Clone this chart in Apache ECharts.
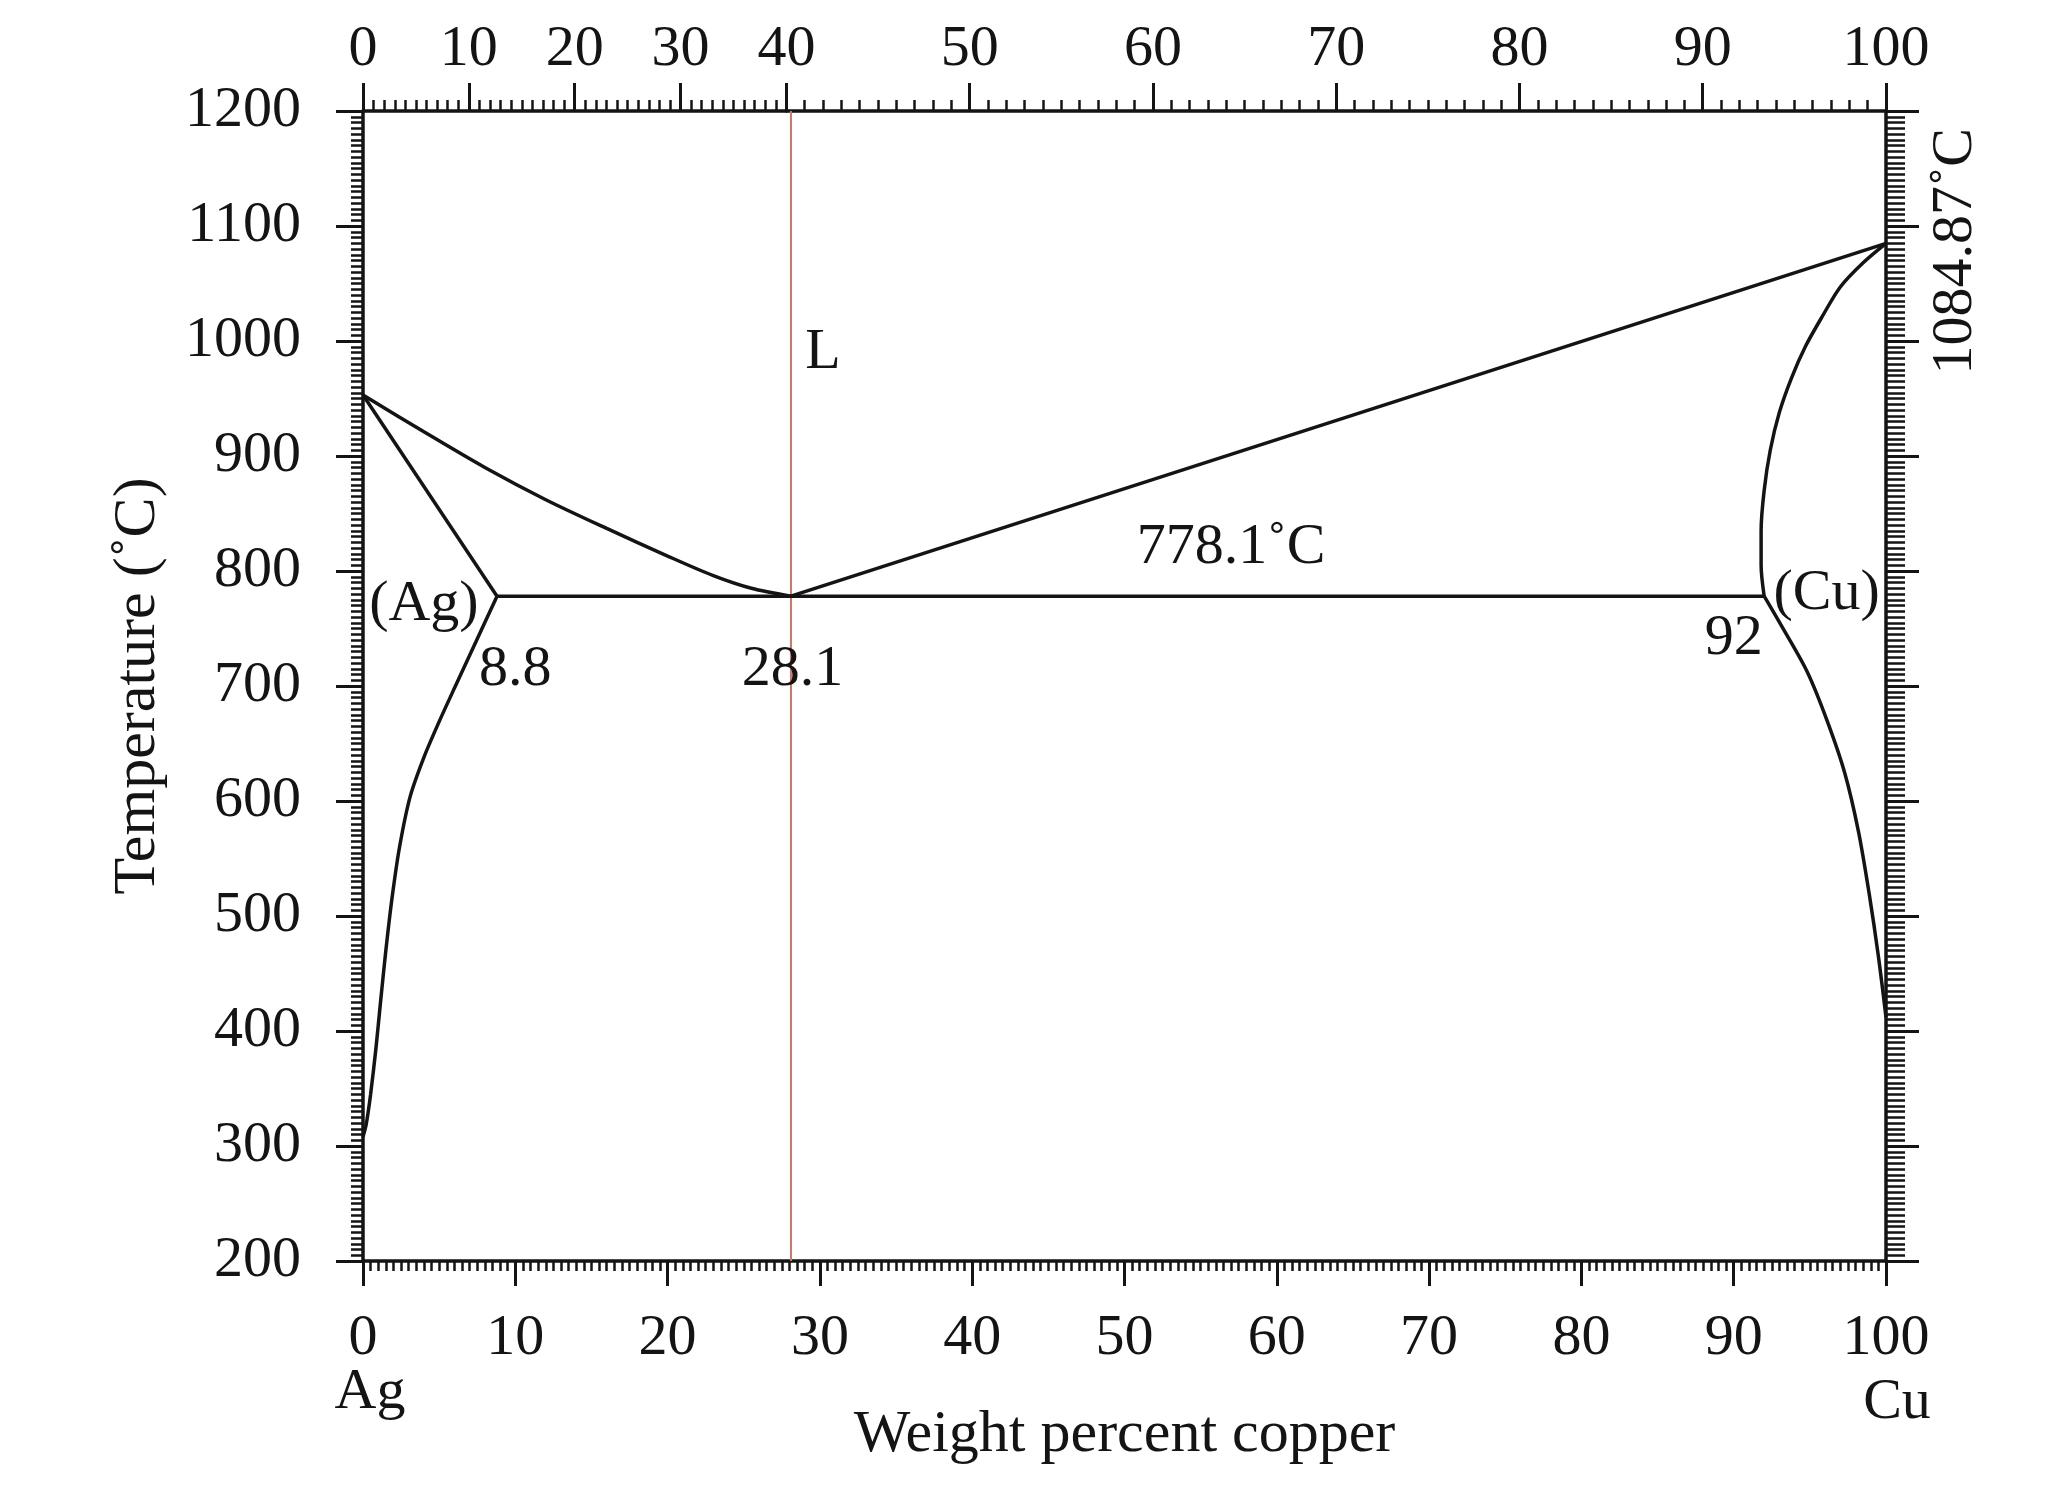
<!DOCTYPE html>
<html>
<head>
<meta charset="utf-8">
<script src="https://cdn.jsdelivr.net/npm/echarts@6/dist/echarts.min.js"></script>
<style>
  html, body { margin: 0; padding: 0; background: #fff; }
  #chart { width: 2046px; height: 1494px; }
</style>
</head>
<body>
<div id="chart"></div>
<script>
// ---------------- data (weight % Cu, temperature °C) ----------------
const agLiquidus = [[0, 953], [4, 921], [8, 890], [12, 862], [16, 837], [20, 813], [23, 796], [25.5, 785], [28.1, 778.1]];
const agSolidus  = [[0, 953], [8.8, 778.1]];
const agSolvus   = [[8.8, 778.1], [7.4, 738], [6.0, 698], [5.0, 669], [4.0, 638], [3.1, 604], [2.4, 560], [1.9, 515], [1.5, 470], [1.15, 425], [0.85, 385], [0.5, 345], [0.2, 318], [0, 308]];
const cuLiquidus = [[28.1, 778.1], [100, 1084.87]];
const cuSolidus  = [[100, 1084.87], [98.5, 1068], [97, 1047], [95.8, 1021], [94.7, 995], [93.8, 968], [93.0, 938], [92.4, 905], [92.0, 870], [91.8, 835], [91.8, 805], [92, 778.1]];
const cuSolvus   = [[92, 778.1], [93.15, 752], [94.8, 713], [96.1, 671], [97.3, 624], [98.2, 573], [98.9, 519], [99.5, 465], [100, 412]];
const eutecticLine = [[8.8, 778.1], [92, 778.1]];
const eutecticComposition = [[28.1, 200], [28.1, 1200]];

// annotations: [wt%, °C, text, rotation(deg)]
const annotations = [
  [30.2, 990, 'L', 0],
  [57.0, 820, '778.1˚C', 0],
  [4.0, 771, '(Ag)', 0],
  [10.0, 714, '8.8', 0],
  [28.2, 714, '28.1', 0],
  [90.0, 741, '92', 0],
  [96.1, 780, '(Cu)', 0],
  [104.6, 1078, '1084.87˚C', 90]
];

// top (atomic percent) axis: values and the weight-% position of the break value 40
const topTicksLow  = [0, 10, 20, 30, 40];
const topTicksHigh = [40, 50, 60, 70, 80, 90, 100];
const topBreakWt = 27.8;

// bottom / left axis ranges
const xRange = [0, 100], xStep = 10;
const yRange = [200, 1200], yStep = 100;

// ---------------- layout & style ----------------
const FONT = "'Liberation Serif', 'Times New Roman', serif";
const INK = '#141414';
const L = 363, R = 160, T = 111, B = 233;
const plotW = 2046 - L - R;
const wLow = plotW * topBreakWt / 100;

const chart = echarts.init(document.getElementById('chart'), null, { renderer: 'canvas' });

function lineSeries(data, extra) {
  return Object.assign({
    type: 'line', data: data, xAxisIndex: 0, yAxisIndex: 0,
    symbol: 'none', smooth: false, silent: true,
    lineStyle: { color: INK, width: 3.5 }, z: 5
  }, extra || {});
}

const tickLabelStyle = { fontFamily: FONT, fontSize: 58, color: INK };
const plain = v => String(v);
const gridBase = { top: T, bottom: B, containLabel: false, outerBoundsMode: 'none' };

const option = {
  animation: false,
  backgroundColor: '#fff',
  grid: [
    Object.assign({ left: L, right: R }, gridBase),
    Object.assign({ left: L, width: wLow }, gridBase),
    Object.assign({ left: L + wLow, right: R }, gridBase)
  ],
  xAxis: [
    {
      gridIndex: 0, type: 'value', position: 'bottom',
      min: xRange[0], max: xRange[1], interval: xStep,
      name: 'Weight percent copper', nameLocation: 'middle', nameGap: 144, nameMoveOverlap: false,
      nameTextStyle: { fontFamily: FONT, fontSize: 60, color: INK },
      axisLine: { show: true, onZero: false, lineStyle: { color: INK, width: 3.5 } },
      axisTick: { show: true, inside: false, length: 25, lineStyle: { color: INK, width: 3 } },
      minorTick: { show: true, splitNumber: 20, length: 10, lineStyle: { color: INK, width: 2.5 } },
      splitLine: { show: false }, minorSplitLine: { show: false },
      axisLabel: {
        margin: 49,
        formatter: function (v) {
          if (v === 0) return '{v|0}\n{a|Ag}';
          if (v === 100) return '{v|100}\n{c|Cu}';
          return '{v|' + v + '}';
        },
        rich: {
          v: { fontFamily: FONT, fontSize: 58, color: INK, lineHeight: 58 },
          a: { fontFamily: FONT, fontSize: 58, color: INK, lineHeight: 50, padding: [0, 0, 0, 14] },
          c: { fontFamily: FONT, fontSize: 58, color: INK, lineHeight: 70, padding: [0, 0, 0, 22] }
        }
      }
    },
    {
      gridIndex: 1, type: 'value', position: 'top',
      min: topTicksLow[0], max: topTicksLow[topTicksLow.length - 1], interval: topTicksLow[1] - topTicksLow[0],
      axisLine: { show: true, onZero: false, lineStyle: { color: INK, width: 3.5 } },
      axisTick: { show: true, inside: false, length: 28, lineStyle: { color: INK, width: 3 } },
      minorTick: { show: true, splitNumber: 10, length: 11, lineStyle: { color: INK, width: 2.5 } },
      splitLine: { show: false },
      axisLabel: Object.assign({ margin: 32, formatter: plain }, tickLabelStyle)
    },
    {
      gridIndex: 2, type: 'value', position: 'top',
      min: topTicksHigh[0], max: topTicksHigh[topTicksHigh.length - 1], interval: topTicksHigh[1] - topTicksHigh[0],
      axisLine: { show: true, onZero: false, lineStyle: { color: INK, width: 3.5 } },
      axisTick: { show: true, inside: false, length: 28, lineStyle: { color: INK, width: 3 } },
      minorTick: { show: true, splitNumber: 10, length: 11, lineStyle: { color: INK, width: 2.5 } },
      splitLine: { show: false },
      axisLabel: Object.assign({ margin: 32, showMinLabel: false, formatter: plain }, tickLabelStyle)
    }
  ],
  yAxis: [
    {
      gridIndex: 0, type: 'value', position: 'left',
      min: yRange[0], max: yRange[1], interval: yStep,
      name: 'Temperature (˚C)', nameLocation: 'middle', nameGap: 195, nameRotate: 90, nameMoveOverlap: false,
      nameTextStyle: { fontFamily: FONT, fontSize: 60, color: INK },
      axisLine: { show: true, onZero: false, lineStyle: { color: INK, width: 3.5 } },
      axisTick: { show: true, inside: false, length: 27, lineStyle: { color: INK, width: 3 } },
      minorTick: { show: true, splitNumber: 20, length: 12, lineStyle: { color: INK, width: 2.5 } },
      splitLine: { show: false },
      axisLabel: Object.assign({ margin: 62, formatter: plain }, tickLabelStyle)
    },
    {
      gridIndex: 0, type: 'value', position: 'right',
      min: yRange[0], max: yRange[1], interval: yStep,
      axisLine: { show: true, onZero: false, lineStyle: { color: INK, width: 3.5 } },
      axisTick: { show: true, inside: false, length: 33, lineStyle: { color: INK, width: 3 } },
      minorTick: { show: true, splitNumber: 20, length: 19, lineStyle: { color: INK, width: 2.5 } },
      splitLine: { show: false },
      axisLabel: { show: false }
    },
    { gridIndex: 1, type: 'value', show: false, min: 0, max: 1 },
    { gridIndex: 2, type: 'value', show: false, min: 0, max: 1 }
  ],
  series: [
    lineSeries(eutecticComposition, { lineStyle: { color: '#cc7766', width: 2 }, z: 3 }),
    lineSeries(agLiquidus, { smooth: 0.3 }),
    lineSeries(agSolidus),
    lineSeries(agSolvus, { smooth: 0.25 }),
    lineSeries(cuLiquidus),
    lineSeries(cuSolidus, { smooth: 0.3 }),
    lineSeries(cuSolvus, { smooth: 0.3 }),
    lineSeries(eutecticLine),
    {
      type: 'custom', xAxisIndex: 0, yAxisIndex: 0, silent: true, z: 10,
      data: annotations.map(a => [a[0], a[1]]),
      renderItem: function (params, api) {
        const a = annotations[params.dataIndex];
        const p = api.coord([api.value(0), api.value(1)]);
        return {
          type: 'text', x: p[0], y: p[1], rotation: a[3] * Math.PI / 180,
          style: {
            text: a[2], fill: INK, fontFamily: FONT, fontSize: 58,
            align: 'center', verticalAlign: 'middle'
          }
        };
      }
    }
  ]
};

chart.setOption(option);
</script>
</body>
</html>
